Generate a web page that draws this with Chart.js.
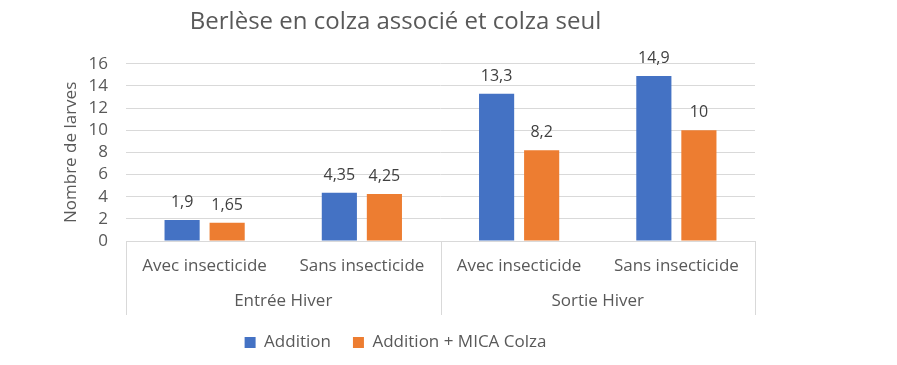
<!DOCTYPE html>
<html>
<head>
<meta charset="utf-8">
<script src="https://cdn.jsdelivr.net/npm/chart.js@4/dist/chart.umd.min.js"></script>
<style>
  body { margin: 0; background: #fff; }
  #wrap { width: 790px; height: 365px; }
</style>
</head>
<body>
<div id="wrap"><canvas id="chart" width="790" height="365"></canvas></div>
<script>
const categories = ["Avec insecticide", "Sans insecticide", "Avec insecticide", "Sans insecticide"];
const groups = ["Entrée Hiver", "Sortie Hiver"];
const additionValues = [1.9, 4.35, 13.3, 14.9];
const micaValues = [1.65, 4.25, 8.2, 10];
const seriesNames = ["Addition", "Addition + MICA Colza"];

const FONT = "'Open Sans', sans-serif";

// value labels above bars, French decimal comma
const valueLabels = {
    id: "valueLabels",
    afterDatasetsDraw(chart) {
        const ctx = chart.ctx;
        ctx.save();
        ctx.font = "16px " + FONT;
        ctx.fillStyle = "#404040";
        ctx.textAlign = "center";
        ctx.textBaseline = "alphabetic";
        chart.data.datasets.forEach((ds, i) => {
            chart.getDatasetMeta(i).data.forEach((bar, j) => {
                ctx.fillText(String(ds.data[j]).replace(".", ","), bar.x, bar.y - 13);
            });
        });
        ctx.restore();
    }
};

// separators between the two groups of the category axis
const groupLines = {
    id: "groupLines",
    afterDraw(chart) {
        const x = chart.scales.x;
        const x2 = chart.scales.x2;
        const mid = (x.getPixelForValue(1) + x.getPixelForValue(2)) / 2;
        const ctx = chart.ctx;
        ctx.save();
        ctx.strokeStyle = "#d9d9d9";
        ctx.lineWidth = 1;
        [x.left, mid, x.right].forEach(px => {
            ctx.beginPath();
            ctx.moveTo(Math.round(px) + 0.5, chart.chartArea.bottom);
            ctx.lineTo(Math.round(px) + 0.5, x2.bottom + 3);
            ctx.stroke();
        });
        ctx.restore();
    }
};

new Chart(document.getElementById("chart"), {
    type: "bar",
    data: {
        labels: categories,
        datasets: [
            { label: seriesNames[0], data: additionValues, backgroundColor: "#4472C4" },
            { label: seriesNames[1], data: micaValues, backgroundColor: "#ED7D31" }
        ]
    },
    options: {
        responsive: false,
        animation: false,
        categoryPercentage: 0.573,
        barPercentage: 0.78,
        layout: { padding: { left: 36, right: 35, top: 0, bottom: 4 } },
        plugins: {
            title: {
                display: true,
                text: "Berlèse en colza associé et colza seul",
                color: "#595959",
                font: { family: FONT, size: 24, weight: "normal" },
                padding: { top: 8, bottom: 27 }
            },
            legend: {
                position: "bottom",
                labels: {
                    boxWidth: 11,
                    boxHeight: 11,
                    padding: 22,
                    color: "#595959",
                    font: { family: FONT, size: 17 }
                }
            },
            tooltip: { enabled: false }
        },
        scales: {
            x: {
                grid: { display: false, drawTicks: false },
                border: { display: true, color: "#d9d9d9" },
                ticks: { color: "#595959", padding: 15, font: { family: FONT, size: 17 }, maxRotation: 0 },
                afterFit(scale) { scale.height = 35; }
            },
            x2: {
                type: "category",
                labels: groups,
                position: "bottom",
                offset: true,
                grid: { display: false, drawTicks: false },
                border: { display: false },
                ticks: { color: "#595959", padding: 15, font: { family: FONT, size: 17 } },
                afterFit(scale) { scale.height = 36; }
            },
            y: {
                min: 0,
                max: 16,
                ticks: { stepSize: 2, autoSkip: false, color: "#595959", padding: 18, font: { family: FONT, size: 17 } },
                grid: { color: "#d9d9d9", drawTicks: false },
                border: { display: false },
                title: {
                    display: true,
                    text: "Nombre de larves",
                    color: "#595959",
                    font: { family: FONT, size: 17 },
                    padding: { top: 25, bottom: 10 }
                },
                afterFit(scale) { scale.width = 90; }
            }
        }
    },
    plugins: [valueLabels, groupLines]
});
</script>
</body>
</html>
